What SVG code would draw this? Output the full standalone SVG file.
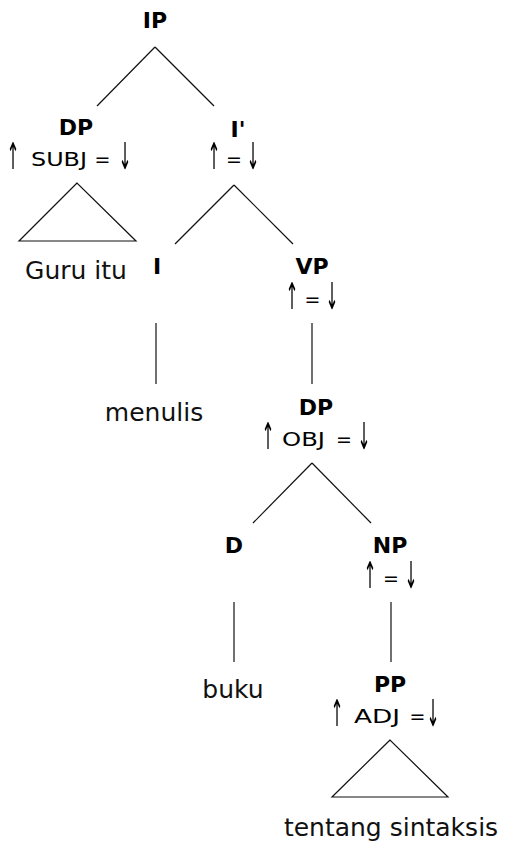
<svg xmlns="http://www.w3.org/2000/svg" width="505" height="847" viewBox="0 0 505 847">
<defs>
<filter id="gray" x="-50%" y="-50%" width="200%" height="200%"><feOffset dx="0" dy="0"/></filter>
</defs>
<style>
.lab{font-family:"DejaVu Sans",Verdana,sans-serif;font-weight:bold;font-size:22px;fill:#000;text-anchor:middle}
.ann{font-family:"DejaVu Sans",Verdana,sans-serif;font-size:20px;fill:#000}
.eq{font-family:"DejaVu Sans",Verdana,sans-serif;font-size:19px;fill:#000;text-anchor:middle}
.ar{font-family:"DejaVu Sans",Verdana,sans-serif;font-size:37px;fill:#000;text-anchor:middle;filter:url(#gray)}
.leaf{font-family:"DejaVu Sans",Verdana,sans-serif;font-size:25px;fill:#111;text-anchor:middle}
.ln{stroke:#111;stroke-width:1.2;fill:none}
</style>
<rect width="505" height="847" fill="#fff"/>
<g id="connectors">
<line class="ln" x1="155" y1="47" x2="97" y2="106"/>
<line class="ln" x1="155" y1="47" x2="214" y2="106"/>
<line class="ln" x1="234" y1="185" x2="175" y2="244"/>
<line class="ln" x1="234" y1="185" x2="293" y2="244"/>
<line class="ln" x1="156" y1="323" x2="156" y2="384"/>
<line class="ln" x1="312" y1="323" x2="312" y2="384"/>
<line class="ln" x1="312" y1="463" x2="253" y2="523"/>
<line class="ln" x1="312" y1="463" x2="371" y2="523"/>
<line class="ln" x1="234" y1="602" x2="234" y2="662"/>
<line class="ln" x1="391" y1="602" x2="391" y2="662"/>
<polygon class="ln" points="77,183 19,241 136,241" stroke-width="1.5"/>
<polygon class="ln" points="390,740 332,797 448,797" stroke-width="1.5"/>
</g>
<g id="n-ip"><text class="lab" x="155" y="28">IP</text></g>
<g id="n-dp-subj">
<text class="lab" x="76" y="135">DP</text>
<text class="ar" transform="translate(13,169) scale(0.42,1)">↑</text>
<text class="ann" x="31" y="166" textLength="56" lengthAdjust="spacingAndGlyphs">SUBJ</text>
<text class="eq" x="102.5" y="166">=</text>
<text class="ar" transform="translate(125,169) scale(0.42,1)">↓</text>
</g>
<g id="n-guru"><text class="leaf" x="76" y="279">Guru itu</text></g>
<g id="n-ibar">
<text class="lab" x="238" y="137">I'</text>
<text class="ar" transform="translate(214,169) scale(0.42,1)">↑</text>
<text class="eq" x="234" y="166">=</text>
<text class="ar" transform="translate(253,169) scale(0.42,1)">↓</text>
</g>
<g id="n-i"><text class="lab" x="157" y="274">I</text></g>
<g id="n-vp">
<text class="lab" x="312" y="274">VP</text>
<text class="ar" transform="translate(292,309) scale(0.42,1)">↑</text>
<text class="eq" x="312.5" y="306">=</text>
<text class="ar" transform="translate(332,309) scale(0.42,1)">↓</text>
</g>
<g id="n-menulis"><text class="leaf" x="154" y="421">menulis</text></g>
<g id="n-dp-obj">
<text class="lab" x="316" y="415">DP</text>
<text class="ar" transform="translate(268,449) scale(0.42,1)">↑</text>
<text class="ann" x="282" y="446" textLength="43" lengthAdjust="spacingAndGlyphs">OBJ</text>
<text class="eq" x="344" y="446">=</text>
<text class="ar" transform="translate(364,449) scale(0.42,1)">↓</text>
</g>
<g id="n-d"><text class="lab" x="234" y="553">D</text></g>
<g id="n-np">
<text class="lab" x="390" y="553">NP</text>
<text class="ar" transform="translate(370,588) scale(0.42,1)">↑</text>
<text class="eq" x="391" y="585">=</text>
<text class="ar" transform="translate(411,588) scale(0.42,1)">↓</text>
</g>
<g id="n-buku"><text class="leaf" x="233" y="698">buku</text></g>
<g id="n-pp">
<text class="lab" x="390" y="692">PP</text>
<text class="ar" transform="translate(337,726) scale(0.42,1)">↑</text>
<text class="ann" x="354" y="723" textLength="46" lengthAdjust="spacingAndGlyphs">ADJ</text>
<text class="eq" x="417.5" y="723">=</text>
<text class="ar" transform="translate(433,726) scale(0.42,1)">↓</text>
</g>
<g id="n-tentang"><text class="leaf" x="391" y="836">tentang sintaksis</text></g>
</svg>
